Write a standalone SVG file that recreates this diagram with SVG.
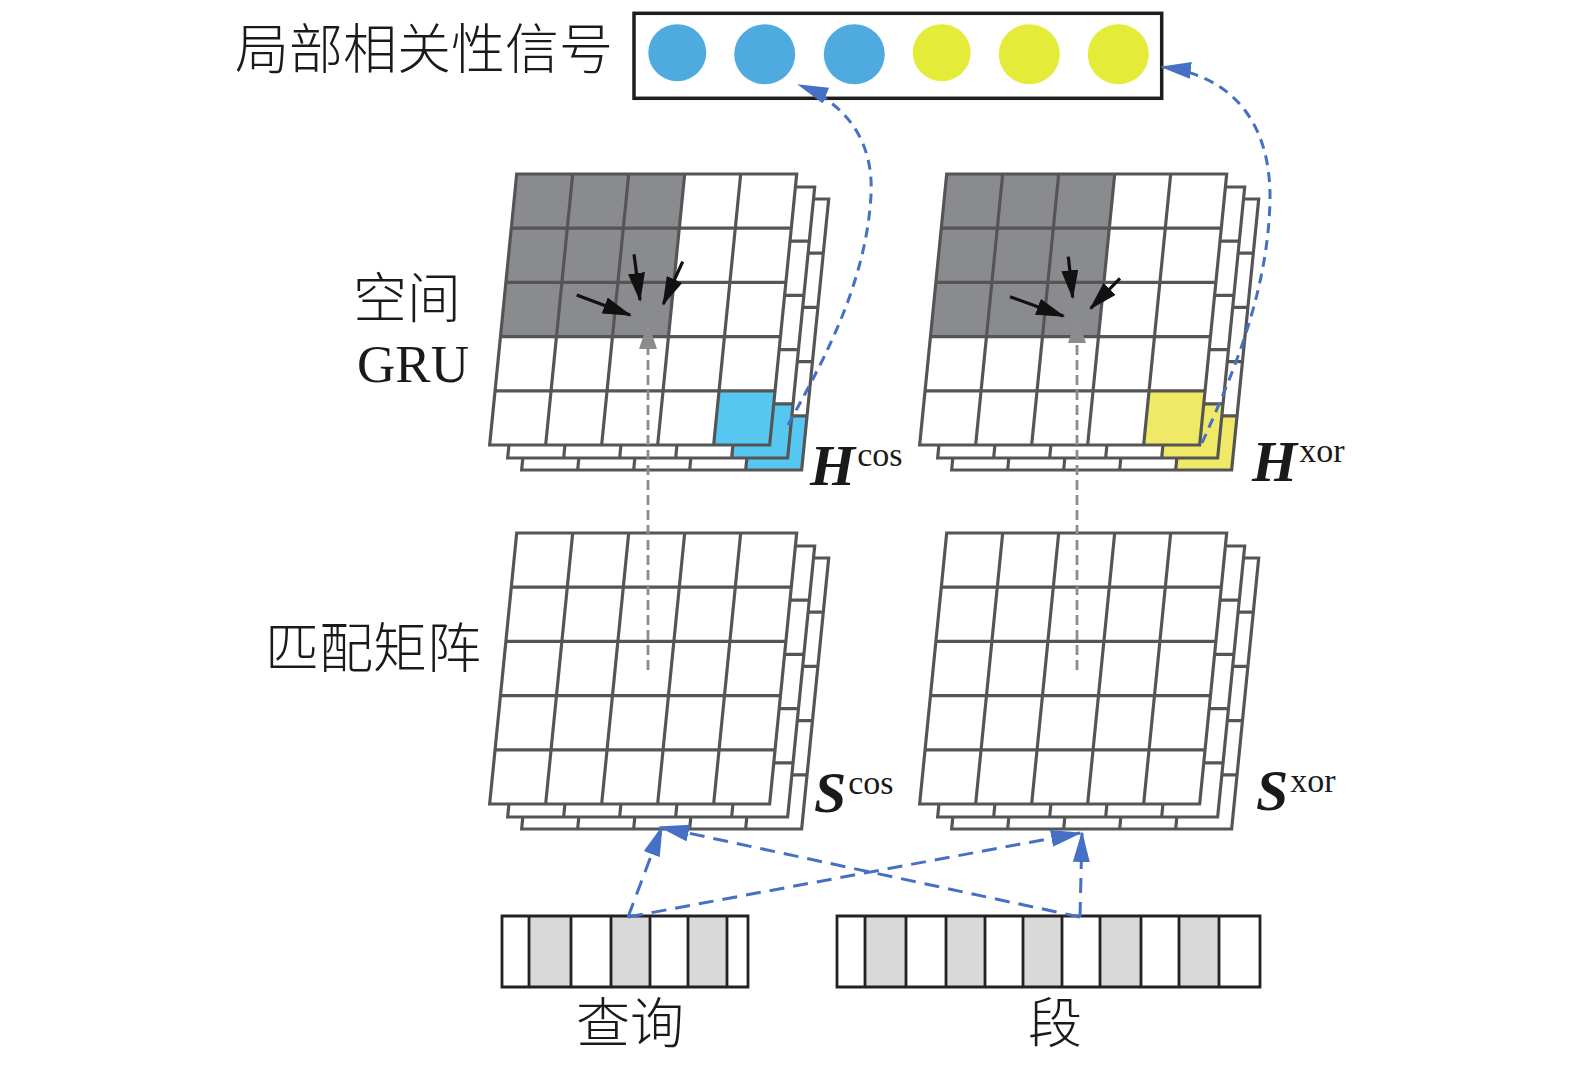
<svg xmlns="http://www.w3.org/2000/svg" xmlns:xlink="http://www.w3.org/1999/xlink" width="1575" height="1073" viewBox="0 0 1575 1073">
<style>
.gl{fill:none;stroke:#555555;stroke-width:3.2;stroke-linejoin:miter}
.w{fill:#ffffff}
.dk{fill:#8a8b8f}
.cy{fill:#56c7f1}
.yl{fill:#f0e968}
.lg{fill:#d9d9d9}
.vec{fill:none;stroke:#222222;stroke-width:2.8}
.cjk{font-family:'Liberation Serif','Noto Sans CJK SC',serif;font-size:54px;fill:#1a1a1a;text-anchor:middle;font-weight:300}
.lat{font-family:'Liberation Serif',serif;fill:#1a1a1a}
.big{font-weight:bold;font-style:italic;font-size:58px}
.sup{font-size:34px}
.blue{fill:none;stroke:#4670c4;stroke-width:3;stroke-dasharray:10 7}
.blue2{fill:none;stroke:#4670c4;stroke-width:3;stroke-dasharray:15 9}
.gray{fill:none;stroke:#8c8c8c;stroke-width:2.8;stroke-dasharray:10 5}
.blk{fill:none;stroke:#111111;stroke-width:3.2}
</style>
<defs>
<path id="gl" class="gl" d="M0,0H280V271H0Z M0,54.2H280 M0,108.4H280 M0,162.6H280 M0,216.8H280 M56,0V271 M112,0V271 M168,0V271 M224,0V271"/>
<marker id="ab" markerUnits="userSpaceOnUse" markerWidth="31" markerHeight="17" refX="29" refY="8.5" orient="auto" viewBox="0 0 31 17"><path d="M0,0L31,8.5L0,17Z" fill="#4670c4"/></marker>
<marker id="ak" markerUnits="userSpaceOnUse" markerWidth="29" markerHeight="17" refX="27" refY="8.5" orient="auto" viewBox="0 0 29 17"><path d="M0,0L29,8.5L0,17Z" fill="#111111"/></marker>
<marker id="ag" markerUnits="userSpaceOnUse" markerWidth="27" markerHeight="18" refX="25" refY="9" orient="auto" viewBox="0 0 27 18"><path d="M0,0L27,9L0,18Z" fill="#8c8c8c"/></marker>
</defs>

<g id="signal">
<rect x="634" y="13.3" width="527.7" height="85" fill="#ffffff" stroke="#1e1e1e" stroke-width="3.5"/>
<ellipse cx="677.3" cy="52.7" rx="29" ry="28.5" fill="#4eaadf"/>
<ellipse cx="764.7" cy="54.3" rx="30.5" ry="30" fill="#4eaadf"/>
<ellipse cx="854.3" cy="54.3" rx="30.5" ry="30" fill="#4eaadf"/>
<ellipse cx="941.7" cy="52.7" rx="29" ry="28.5" fill="#e4eb38"/>
<ellipse cx="1029.3" cy="54.3" rx="30.5" ry="30" fill="#e4eb38"/>
<ellipse cx="1118.3" cy="54.3" rx="30.5" ry="30" fill="#e4eb38"/>
<text class="cjk" x="424" y="69">局部相关性信号</text>
</g>

<g id="h-cos">
<g transform="translate(548.7,199) skewX(-5.7)"><rect class="w" width="280" height="271"/><rect class="cy" x="224" y="216.8" width="56" height="54.2"/><use xlink:href="#gl"/></g>
<g transform="translate(534.7,187) skewX(-5.7)"><rect class="w" width="280" height="271"/><rect class="cy" x="224" y="216.8" width="56" height="54.2"/><use xlink:href="#gl"/></g>
<g transform="translate(516.7,174) skewX(-5.7)"><rect class="w" width="280" height="271"/><rect class="dk" width="168" height="162.6"/><rect class="cy" x="224" y="216.8" width="56" height="54.2"/><use xlink:href="#gl"/></g>
<text class="lat big" x="810" y="485">H<tspan class="sup" font-weight="normal" font-style="normal" dx="2" dy="-19">cos</tspan></text>
</g>

<g id="h-xor">
<g transform="translate(978.7,199) skewX(-5.7)"><rect class="w" width="280" height="271"/><rect class="yl" x="224" y="216.8" width="56" height="54.2"/><use xlink:href="#gl"/></g>
<g transform="translate(964.7,187) skewX(-5.7)"><rect class="w" width="280" height="271"/><rect class="yl" x="224" y="216.8" width="56" height="54.2"/><use xlink:href="#gl"/></g>
<g transform="translate(946.7,174) skewX(-5.7)"><rect class="w" width="280" height="271"/><rect class="dk" width="168" height="162.6"/><rect class="yl" x="224" y="216.8" width="56" height="54.2"/><use xlink:href="#gl"/></g>
<text class="lat big" x="1252" y="481">H<tspan class="sup" font-weight="normal" font-style="normal" dx="2" dy="-19">xor</tspan></text>
</g>

<g id="s-cos">
<g transform="translate(548.7,558) skewX(-5.7)"><rect class="w" width="280" height="271"/><use xlink:href="#gl"/></g>
<g transform="translate(534.7,546) skewX(-5.7)"><rect class="w" width="280" height="271"/><use xlink:href="#gl"/></g>
<g transform="translate(516.7,533) skewX(-5.7)"><rect class="w" width="280" height="271"/><use xlink:href="#gl"/></g>
<text class="lat big" x="814" y="812">S<tspan class="sup" font-weight="normal" font-style="normal" dx="2" dy="-18">cos</tspan></text>
</g>

<g id="s-xor">
<g transform="translate(978.7,558) skewX(-5.7)"><rect class="w" width="280" height="271"/><use xlink:href="#gl"/></g>
<g transform="translate(964.7,546) skewX(-5.7)"><rect class="w" width="280" height="271"/><use xlink:href="#gl"/></g>
<g transform="translate(946.7,533) skewX(-5.7)"><rect class="w" width="280" height="271"/><use xlink:href="#gl"/></g>
<text class="lat big" x="1256" y="810">S<tspan class="sup" font-weight="normal" font-style="normal" dx="2" dy="-18">xor</tspan></text>
</g>

<g id="query">
<rect class="lg" x="529" y="916" width="42" height="71"/>
<rect class="lg" x="611" y="916" width="39" height="71"/>
<rect class="lg" x="688" y="916" width="39" height="71"/>
<path class="vec" d="M502,916H748V987H502Z M529,916V987 M571,916V987 M611,916V987 M650,916V987 M688,916V987 M727,916V987"/>
<text class="cjk" x="630" y="1043">查询</text>
</g>

<g id="segment">
<rect class="lg" x="865" y="916" width="41" height="71"/>
<rect class="lg" x="946" y="916" width="39" height="71"/>
<rect class="lg" x="1023" y="916" width="39" height="71"/>
<rect class="lg" x="1100" y="916" width="41" height="71"/>
<rect class="lg" x="1179" y="916" width="40" height="71"/>
<path class="vec" d="M837,916H1260V987H837Z M865,916V987 M906,916V987 M946,916V987 M985,916V987 M1023,916V987 M1062,916V987 M1100,916V987 M1141,916V987 M1179,916V987 M1219,916V987"/>
<text class="cjk" x="1055" y="1043">段</text>
</g>

<g id="labels">
<text class="cjk" x="407" y="318">空间</text>
<text class="lat" x="413" y="382" font-size="53" text-anchor="middle">GRU</text>
<text class="cjk" x="373" y="668">匹配矩阵</text>
</g>

<g id="connectors">
<path class="gray" d="M648,670V324" marker-end="url(#ag)"/>
<path class="gray" d="M1077,670V318" marker-end="url(#ag)"/>
<path class="blk" d="M576.7,295L630,315" marker-end="url(#ak)"/>
<path class="blk" d="M634,254.3L640,300" marker-end="url(#ak)"/>
<path class="blk" d="M682.7,261.7L663.3,304" marker-end="url(#ak)"/>
<path class="blk" d="M1010,296.7L1063.3,316" marker-end="url(#ak)"/>
<path class="blk" d="M1068.3,256.7L1072.7,297.3" marker-end="url(#ak)"/>
<path class="blk" d="M1120,278.3L1090.7,308.3" marker-end="url(#ak)"/>
<path class="blue" d="M788,425C815,375 866,290 871,195C874,140 845,103 799,85" marker-end="url(#ab)"/>
<path class="blue" d="M1202,443C1235,370 1268,290 1270,200C1271,120 1230,75 1162,67" marker-end="url(#ab)"/>
<path class="blue2" d="M628,917L662,827" marker-end="url(#ab)"/>
<path class="blue2" d="M628,917L1080,833" marker-end="url(#ab)"/>
<path class="blue2" d="M1080,917L1082,833" marker-end="url(#ab)"/>
<path class="blue2" d="M1080,917L660,827" marker-end="url(#ab)"/>
</g>
</svg>
